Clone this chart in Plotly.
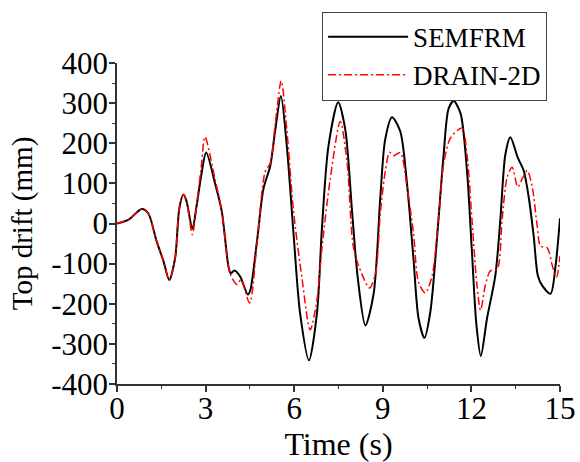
import plotly.graph_objects as go

# SEMFRM (black solid)
t_sem = [0, 0.38, 0.84, 1.06, 1.34, 1.57, 1.77, 1.97, 2.11, 2.25, 2.36, 2.55, 2.70, 2.85, 3.02,
         3.32, 3.55, 3.77, 3.85, 3.98, 4.17, 4.43, 4.51, 4.74, 4.96, 5.19, 5.36, 5.55, 5.75, 5.98,
         6.20, 6.50, 6.77, 6.94, 7.16, 7.49, 7.73, 7.96, 8.15, 8.41, 8.69, 8.92, 9.08, 9.31, 9.59,
         9.82, 10.04, 10.21, 10.41, 10.61, 10.84, 11.06, 11.23, 11.40, 11.63, 11.85, 12.02, 12.17,
         12.32, 12.53, 12.81, 12.98, 13.15, 13.32, 13.57, 13.77, 13.94, 14.11, 14.25, 14.40, 14.68,
         14.85, 15.0]
v_sem = [0, 9, 36, 25, -44, -93, -141, -85, 38, 72, 54, -13, 46, 119, 177,
         100, 29, -105, -124, -117, -132, -177, -167, -44, 87, 144, 234, 318, 193, -28,
         -224, -341, -224, -11, 193, 302, 234, 29, -134, -254, -175, 70, 209, 265, 230,
         99, -89, -236, -285, -220, -32, 172, 287, 305, 275, 132, -73, -253,
         -330, -236, -130, 9, 172, 215, 164, 132, 66, -32, -130, -155, -175,
         -105, 13]

# DRAIN-2D (red dash-dot)
t_drn = [0, 0.38, 0.84, 1.06, 1.34, 1.57, 1.77, 1.97, 2.11, 2.25, 2.36, 2.55, 2.70, 2.85, 2.98,
         3.32, 3.55, 3.83, 4.06, 4.20, 4.49, 4.74, 5.02, 5.19, 5.36, 5.56, 5.75, 5.98, 6.26, 6.54,
         6.77, 6.94, 7.22, 7.56, 7.79, 8.01, 8.29, 8.55, 8.75, 8.92, 9.08, 9.23, 9.37, 9.59, 9.82,
         10.04, 10.21, 10.44, 10.67, 10.89, 11.06, 11.29, 11.68, 11.85, 12.02, 12.19, 12.31, 12.47,
         12.64, 12.87, 13.04, 13.21, 13.38, 13.57, 13.72, 13.89, 14.06, 14.23, 14.34, 14.57, 14.74,
         14.88, 15.0]
v_drn = [0, 9, 36, 25, -44, -93, -141, -85, 38, 72, 54, -28, 50, 140, 216,
         110, 30, -125, -152, -140, -198, -50, 130, 150, 250, 355, 234, 29, -134, -265,
         -191, -61, 111, 254, 152, -61, -126, -161, -126, 29, 128, 177, 169, 177, 91,
         -24, -146, -173, -130, 17, 148, 213, 238, 172, 9, -155, -216, -155,
         -118, -114, 9, 115, 140, 91, 111, 132, 91, -7, -56, -61, -105,
         -134, -81]

x_ticks = [0, 3, 6, 9, 12, 15]
x_ticktext = ["0", "3", "6", "9", "12", "15"]
y_ticks = [-400, -300, -200, -100, 0, 100, 200, 300, 400]
y_ticktext = ["-400", "-300", "-200", "-100", "0", "100", "200", "300", "400"]

FONT = "Liberation Serif"

fig = go.Figure()
fig.add_trace(go.Scatter(x=t_sem, y=v_sem, mode="lines", name="SEMFRM",
                         line=dict(color="black", width=2, shape="spline", smoothing=0.8)))
fig.add_trace(go.Scatter(x=t_drn, y=v_drn, mode="lines", name="DRAIN-2D",
                         line=dict(color="#ff0000", width=1.5, shape="spline", smoothing=0.8,
                                   dash="8px,3px,2px,3px")))

axis_common = dict(showgrid=False, zeroline=False, showline=True, linecolor="#333",
                   linewidth=1.5, ticks="outside", tickcolor="#333", tickwidth=1.5,
                   ticklen=6, automargin=False,
                   tickfont=dict(family=FONT, size=31, color="black"),
                   minor=dict(ticks="outside", ticklen=3, tickcolor="#333", tickwidth=1.2))

fig.update_xaxes(range=[0, 15], tickvals=x_ticks, ticktext=x_ticktext,
                 ticklabelstandoff=-10,
                 title=dict(text="Time (s)", font=dict(family=FONT, size=32, color="black"),
                            standoff=12),
                 **axis_common)
fig.update_xaxes(minor=dict(dtick=1.5))
fig.update_yaxes(range=[-400, 400], tickvals=y_ticks, ticktext=y_ticktext,
                 ticklabelstandoff=-5,
                 title=dict(text="Top drift (mm)", font=dict(family=FONT, size=29, color="black"),
                            standoff=10),
                 **axis_common)
fig.update_yaxes(minor=dict(dtick=50))

fig.update_layout(
    template="none",
    width=580, height=462,
    margin=dict(l=117, r=20, t=58, b=78),
    paper_bgcolor="white", plot_bgcolor="white",
    font=dict(family=FONT, color="black"),
    legend=dict(x=0.463, y=1.16, xanchor="left", yanchor="top",
                font=dict(family=FONT, size=27, color="black"),
                bgcolor="rgba(255,255,255,0)", bordercolor="#444", borderwidth=1,
                itemwidth=80, tracegroupgap=0),
    showlegend=True,
)

fig.write_html("out.html", config={"displayModeBar": False},
               post_script="document.body.style.margin='0';document.body.style.overflow='hidden';")
